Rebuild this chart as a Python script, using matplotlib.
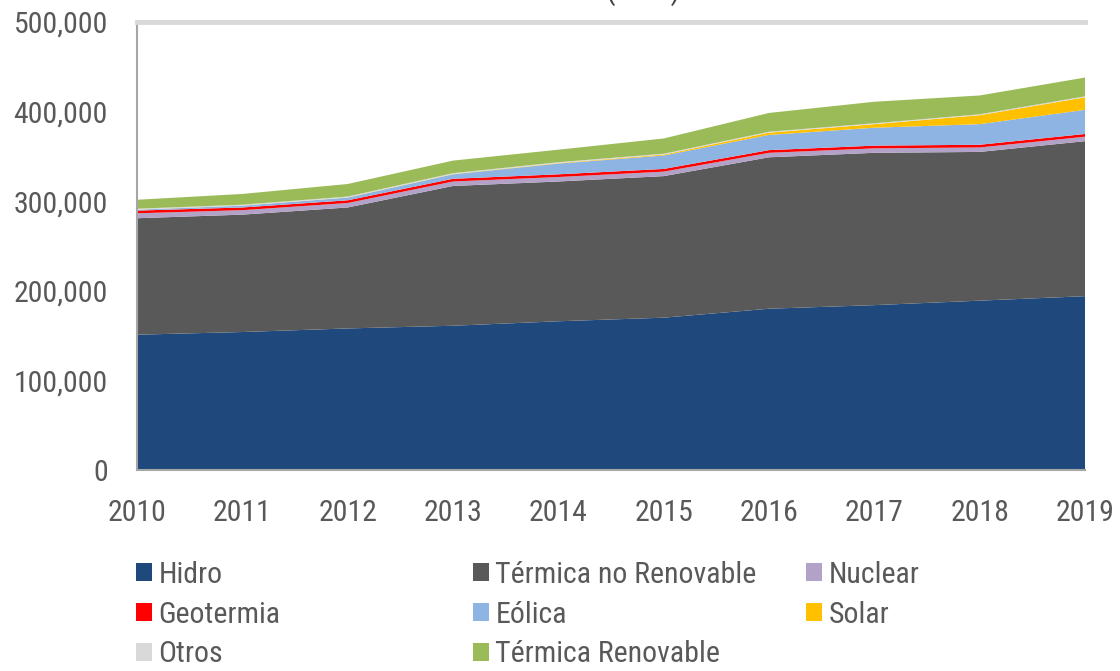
import matplotlib
matplotlib.use("Agg")
import matplotlib.pyplot as plt
from matplotlib.patches import Patch
from matplotlib.ticker import FuncFormatter
from matplotlib import font_manager

names = {f.name for f in font_manager.fontManager.ttflist}
fam = [n for n in ['Liberation Sans Narrow', 'Roboto Condensed', 'DejaVu Sans Condensed',
                   'Open Sans Condensed', 'Noto Sans Condensed'] if n in names]
plt.rcParams['font.family'] = fam + ['Liberation Sans', 'DejaVu Sans']
narrow = len(fam) > 0
fs = 21.5 if narrow else 19

years = [2010, 2011, 2012, 2013, 2014, 2015, 2016, 2017, 2018, 2019]
hidro = [151000, 154000, 158000, 161000, 166000, 170000, 180000, 184000, 189000, 194000]
termica_no_renov = [130000, 131000, 135000, 156000, 156000, 158000, 169000, 170000, 166000, 173000]
nuclear = [5500, 5000, 5000, 5000, 5000, 5000, 5000, 5000, 5000, 5000]
geotermia = [3000, 3000, 3000, 3000, 3000, 3000, 3000, 3000, 3000, 3000]
eolica = [1000, 2000, 3000, 5000, 12000, 15000, 17000, 20000, 23000, 27000]
solar = [100, 100, 200, 300, 500, 1000, 2500, 4000, 10000, 14000]
otros = [1000, 1000, 1000, 1000, 1000, 1000, 1000, 1000, 1000, 1000]
termica_renov = [10000, 12000, 14000, 14000, 14000, 17000, 21000, 24000, 21000, 21000]

labels = ['Hidro', 'Térmica no Renovable', 'Nuclear', 'Geotermia', 'Eólica',
          'Solar', 'Otros', 'Térmica Renovable']
colors = ['#1F497D', '#595959', '#B3A2C7', '#FF0000', '#8EB4E3',
          '#FFC000', '#D9D9D9', '#9BBB59']
series = [hidro, termica_no_renov, nuclear, geotermia, eolica, solar, otros, termica_renov]
yticks = [0, 100000, 200000, 300000, 400000, 500000]
title = '(GWh)'

fig = plt.figure(figsize=(11.2, 6.71), dpi=100)
ax = fig.add_axes([137/1120, 1 - 470/671, (1085-137)/1120, (470-22)/671])

ax.stackplot(years, *series, colors=colors, labels=labels, linewidth=0)

ax.set_xlim(years[0], years[-1])
ax.set_ylim(0, 500000)
ax.set_xticks(years)
ax.set_yticks(yticks)
ax.yaxis.set_major_formatter(FuncFormatter(lambda v, p: f"{int(v):,}"))
ax.tick_params(axis='both', length=0, labelsize=fs, colors='#595959')
ax.tick_params(axis='y', pad=21)
ax.tick_params(axis='x', pad=21)

for s in ['right', 'top']:
    ax.spines[s].set_visible(False)
for s in ['left', 'bottom']:
    ax.spines[s].set_color('#A6A6A6')
    ax.spines[s].set_linewidth(1.5)
ax.axhline(500000, color='#D9D9D9', linewidth=3.5, clip_on=False, zorder=5)

fig.text(643/1120, 1 + 1/671, title, ha='center', va='baseline',
         fontsize=22, color='#404040')

handles = [Patch(facecolor=c, edgecolor='none') for c in colors]
cols = [
    ([0, 3, 6], 136),
    ([1, 4, 7], 473),
    ([2, 5], 806),
]
for idxs, xpx in cols:
    fig.legend([handles[i] for i in idxs], [labels[i] for i in idxs],
               loc='upper left', bbox_to_anchor=(xpx/1120, 1 - 561/671),
               frameon=False, fontsize=fs, handlelength=0.55,
               handleheight=0.55, handletextpad=0.2, labelspacing=0.39,
               borderpad=0, borderaxespad=0, labelcolor='#595959')

fig.savefig('out.png', dpi=100)
